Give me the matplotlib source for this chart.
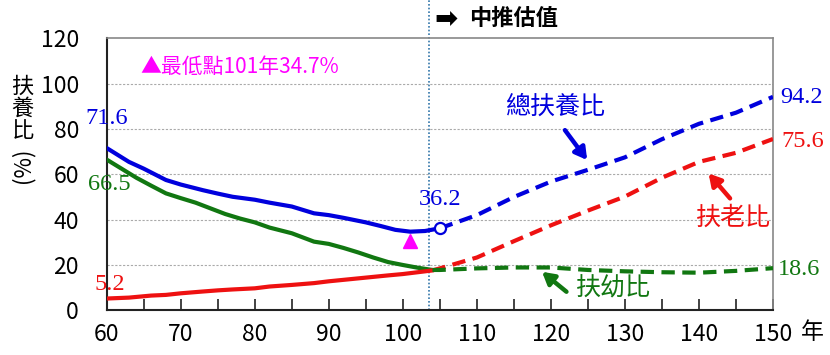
import matplotlib
matplotlib.use("Agg")
import matplotlib.pyplot as plt

plt.rcParams['font.family'] = ['Noto Sans CJK TC', 'DejaVu Sans']

# ---------------- data ----------------
hist_years_total = [60, 63, 65, 68, 70, 73, 75, 77, 80, 82, 85, 88, 90, 92, 95, 97, 99, 101, 103, 105]
hist_total = [71.6, 65.5, 62.5, 57.5, 55.5, 53.0, 51.5, 50.1, 48.8, 47.5, 45.8, 42.8, 42.0, 40.8, 38.8, 37.2, 35.5, 34.7, 35.0, 36.2]

hist_years_young = [60, 62, 64, 66, 68, 70, 72, 74, 76, 78, 80, 82, 85, 88, 90, 92, 94, 96, 98, 100, 102, 104]
hist_young = [66.5, 62.5, 58.5, 55.0, 51.6, 49.5, 47.5, 45.0, 42.5, 40.5, 38.8, 36.5, 34.0, 30.3, 29.3, 27.5, 25.5, 23.3, 21.3, 20.0, 18.8, 17.8]

hist_years_old = [60, 63, 66, 68, 70, 73, 75, 77, 80, 82, 85, 88, 90, 94, 98, 100, 102, 104]
hist_old = [5.2, 5.6, 6.5, 6.8, 7.5, 8.3, 8.8, 9.2, 9.7, 10.5, 11.2, 12.0, 12.8, 14.1, 15.4, 16.0, 16.8, 17.6]

proj_years = [105, 110, 115, 120, 125, 130, 135, 140, 145, 150]
proj_total = [36.2, 42.0, 50.0, 56.8, 62.0, 67.5, 75.5, 82.3, 87.2, 94.2]
proj_old_years = [104] + proj_years
proj_old = [17.6, 18.5, 23.3, 30.5, 37.5, 44.0, 50.2, 58.5, 65.5, 69.5, 75.6]
proj_young_years = [104] + proj_years
proj_young = [17.8, 17.8, 18.5, 18.9, 18.9, 17.8, 17.2, 16.8, 16.6, 17.4, 18.6]

x_ticks = [60, 70, 80, 90, 100, 110, 120, 130, 140, 150]
y_ticks = [0, 20, 40, 60, 80, 100, 120]

min_year, min_value = 101, 34.7
proj_start = 103.5

BLUE = '#0000DD'
RED = '#EE1111'
GREEN = '#117711'
MAGENTA = '#FF00FF'

# ---------------- figure ----------------
fig = plt.figure(figsize=(8.3, 3.55), dpi=100)
ax = fig.add_axes([0.1286, 0.1259, 0.8027, 0.766])

ax.set_xlim(60, 150)
ax.set_ylim(0, 120)

# grid
for v in y_ticks[1:-1]:
    ax.axhline(v, color='#AAAAAA', lw=0.8, ls=(0, (2, 1.5)), zorder=1)

# lines
lw = 3.0
ax.plot(hist_years_total, hist_total, color=BLUE, lw=lw, solid_capstyle='round', zorder=4)
ax.plot(hist_years_young, hist_young, color=GREEN, lw=lw, solid_capstyle='round', zorder=3)
ax.plot(hist_years_old, hist_old, color=RED, lw=lw, solid_capstyle='round', zorder=3)

dash = (0, (3.2, 1.8))
ax.plot(proj_years, proj_total, color=BLUE, lw=lw, ls=dash, zorder=4)
ax.plot(proj_old_years, proj_old, color=RED, lw=lw, ls=dash, zorder=3)
ax.plot(proj_young_years, proj_young, color=GREEN, lw=lw, ls=dash, zorder=3)

# open circle at first projection point
ax.plot([proj_years[0]], [proj_total[0]], marker='o', ms=8, mfc='white', mec=BLUE, mew=1.6, zorder=6)

# minimum marker
ax.plot([min_year], [min_value - 4], marker='^', ms=10, color=MAGENTA, mec=MAGENTA, zorder=6)

# vertical projection line
ax.plot([proj_start, proj_start], [0, 145], color='#3377AA', lw=1.2, ls=(0, (1, 1.2)), clip_on=False, zorder=2)

# spines
for s in ['top', 'right']:
    ax.spines[s].set_color('#888888')
    ax.spines[s].set_linewidth(1.2)
for s in ['left', 'bottom']:
    ax.spines[s].set_color('#222222')
    ax.spines[s].set_linewidth(1.5)

ax.set_xticks(x_ticks)
ax.set_xticks(range(65, 150, 10), minor=True)
ax.set_yticks(y_ticks)
ax.tick_params(axis='x', which='both', direction='in', length=8, width=1.2, color='#222222',
               labelsize=16.5, pad=9)
ax.tick_params(axis='y', which='both', length=0, labelsize=16.5, pad=20)

# y label
fig.text(0.027, 0.695, '扶\n養\n比', ha='center', va='center', fontsize=16, linespacing=0.95)
fig.text(0.027, 0.535, '(%)', ha='center', va='center', fontsize=16, rotation=90)

# x unit
ax.text(155.3, -10, '年', ha='center', va='center', fontsize=16.5, clip_on=False)

# value labels (serif)
serif = ['Liberation Serif', 'DejaVu Serif']
fs_val = 17.5
ax.text(60.0, 84.8, '71.6', color=BLUE, fontsize=fs_val, family=serif, ha='center', va='center', clip_on=False)
ax.text(60.3, 55.3, '66.5', color=GREEN, fontsize=fs_val, family=serif, ha='center', va='center', clip_on=False)
ax.text(60.4, 11.6, '5.2', color=RED, fontsize=fs_val, family=serif, ha='center', va='center', clip_on=False)
ax.text(105.0, 48.7, '36.2', color=BLUE, fontsize=fs_val, family=serif, ha='center', va='center')
ax.text(151.0, 94.1, '94.2', color=BLUE, fontsize=fs_val, family=serif, ha='left', va='center', clip_on=False)
ax.text(151.2, 74.6, '75.6', color=RED, fontsize=fs_val, family=serif, ha='left', va='center', clip_on=False)
ax.text(150.7, 17.8, '18.6', color=GREEN, fontsize=fs_val, family=serif, ha='left', va='center', clip_on=False)

# minimum note
ax.text(64.5, 107.3, '▲最低點101年34.7%', color=MAGENTA, fontsize=15, ha='left', va='center',
        family=['Noto Sans CJK TC', 'DejaVu Sans'])

# series labels and arrows
aprops = dict(arrowstyle='-|>,head_length=0.7,head_width=0.4', lw=3.2, shrinkA=0, shrinkB=0)
ax.text(120.6, 89.7, '總扶養比', color=BLUE, fontsize=18, ha='center', va='center')
ax.annotate('', xy=(124.9, 66.3), xytext=(121.9, 79.5), arrowprops=dict(aprops, color=BLUE))
ax.text(144.6, 40.7, '扶老比', color=RED, fontsize=18, ha='center', va='center')
ax.annotate('', xy=(141.3, 60.4), xytext=(144.2, 49.4), arrowprops=dict(aprops, color=RED))
ax.text(128.4, 9.8, '扶幼比', color=GREEN, fontsize=18, ha='center', va='center')
ax.annotate('', xy=(118.8, 17.0), xytext=(122.1, 8.2), arrowprops=dict(aprops, color=GREEN))

# projection header
ax.text(104.3, 128.8, '➡', fontsize=20, fontweight='bold', family='DejaVu Sans', ha='left', va='center',
        clip_on=False)
ax.text(108.9, 128.8, '中推估值', fontsize=16, fontweight='bold', ha='left', va='center', clip_on=False)

fig.savefig('out.png', dpi=100)
